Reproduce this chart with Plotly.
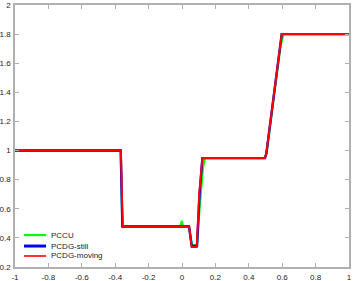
import plotly.graph_objects as go

# PCCU (green)
x_pccu = [-1, -0.367, -0.357, -0.01, -0.005, 0.0, 0.005, 0.042, 0.06, 0.09, 0.105, 0.125, 0.138, 0.49, 0.5, 0.51, 0.59, 0.6, 0.607, 1]
y_pccu = [1, 1, 0.48, 0.48, 0.5, 0.517, 0.48, 0.48, 0.35, 0.35, 0.6, 0.88, 0.948, 0.948, 0.96, 1.01, 1.72, 1.77, 1.80, 1.80]

# PCDG-still (blue)
x_still = [-1, -0.367, -0.357, 0.042, 0.058, 0.09, 0.105, 0.122, 0.497, 0.505, 0.597, 1]
y_still = [1, 1, 0.478, 0.478, 0.345, 0.345, 0.70, 0.948, 0.948, 0.98, 1.80, 1.80]

# PCDG-moving (red)
x_moving = [-1, -0.366, -0.355, 0.043, 0.058, 0.088, 0.103, 0.122, 0.497, 0.505, 0.597, 1]
y_moving = [1, 1, 0.477, 0.477, 0.337, 0.337, 0.70, 0.948, 0.948, 0.98, 1.80, 1.80]

series_names = ["PCCU", "PCDG-still", "PCDG-moving"]
series_colors = ["#00ff00", "#0000ff", "#ff0000"]
series_widths = [2.2, 2.4, 2.0]
legend_widths = [2.2, 3.0, 1.6]

x_ticks = [-1, -0.8, -0.6, -0.4, -0.2, 0, 0.2, 0.4, 0.6, 0.8, 1]
x_tick_labels = ["-1", "-0.8", "-0.6", "-0.4", "-0.2", "0", "0.2", "0.4", "0.6", "0.8", "1"]
y_ticks = [0.2, 0.4, 0.6, 0.8, 1, 1.2, 1.4, 1.6, 1.8, 2]
y_tick_labels = ["0.2", "0.4", "0.6", "0.8", "1", "1.2", "1.4", "1.6", "1.8", "2"]

fig = go.Figure()
data = [(x_pccu, y_pccu), (x_still, y_still), (x_moving, y_moving)]
for (xs, ys), name, col, w in zip(data, series_names, series_colors, series_widths):
    fig.add_trace(go.Scatter(x=xs, y=ys, mode="lines", name=name,
                             line=dict(color=col, width=w), showlegend=False))

# custom compact legend (paper coordinates)
leg_y = [0.122, 0.080, 0.042]
for name, col, w, ly in zip(series_names, series_colors, legend_widths, leg_y):
    fig.add_shape(type="line", xref="paper", yref="paper", x0=0.027, x1=0.093, y0=ly, y1=ly,
                  line=dict(color=col, width=w))
    fig.add_annotation(xref="paper", yref="paper", x=0.103, y=ly, text=name, showarrow=False,
                       xanchor="left", yanchor="middle", font=dict(size=8, color="#222222",
                       family="Liberation Sans, Arial, sans-serif"))

axis_common = dict(showline=True, linecolor="#b0b0b0", linewidth=1.5, mirror="ticks",
                   ticks="inside", ticklen=4, tickcolor="#b0b0b0", showgrid=False,
                   zeroline=False, automargin=False,
                   tickfont=dict(size=8, color="#222222",
                                 family="Liberation Sans, Arial, sans-serif"))

fig.update_xaxes(range=[-1, 1], tickvals=x_ticks, ticktext=x_tick_labels,
                 ticklabelstandoff=2, **axis_common)
fig.update_yaxes(range=[0.2, 2], tickvals=y_ticks, ticktext=y_tick_labels,
                 ticklabelstandoff=1, **axis_common)

fig.update_layout(width=354, height=281, margin=dict(l=15, r=5, t=5, b=14),
                  plot_bgcolor="white", paper_bgcolor="white", showlegend=False)

fig.write_html("out.html", config={"displayModeBar": False},
               post_script="document.body.style.margin='0';document.body.style.overflow='hidden';")
